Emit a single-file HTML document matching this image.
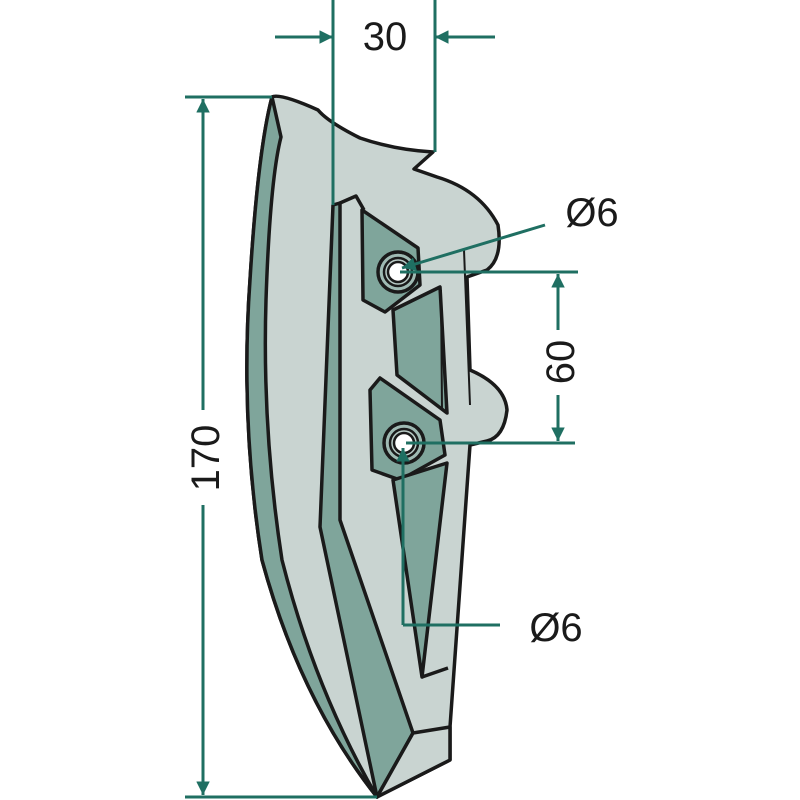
<!DOCTYPE html>
<html><head><meta charset="utf-8"><style>html,body{margin:0;padding:0;background:#fff}svg{display:block}</style></head><body>
<svg width="800" height="800" viewBox="0 0 800 800" xmlns="http://www.w3.org/2000/svg">
<defs><marker id="a" viewBox="0 0 10 10" refX="10" refY="5" markerWidth="8" markerHeight="4.5" orient="auto-start-reverse" markerUnits="strokeWidth"><path d="M0,0 L10,5 L0,10 z" fill="#1f6f62"/></marker></defs>
<g stroke="#1a1a1a" stroke-width="3.5" stroke-linejoin="round">
<path d="M272,97 Q280,93 318,110 Q328,122 360,138 Q395,150 433,152 L414,169 L437,177 Q480,190 498,225 Q503,258 487,270 L467,277 L470,370 Q505,385 507,410 Q504,437 487,441 L470,445 L450,727 L450,760 L377,797 Q300,700 262,560 Q240,420 250,280 Q258,150 272,97 Z" fill="#c9d4d1"/>
<path d="M272,97 Q258,150 250,280 Q240,420 262,560 Q300,700 377,797 Q315,690 282,560 Q262,430 266,300 Q270,180 281,137 Z" fill="#7fa59b"/>
<path d="M333,205 L340,203 L340,520 L413,733 L377,797 L320,527 Z" fill="#7fa59b"/>
<path d="M340,203 L356,196 L364,210" fill="none"/>
<path d="M413,733 L450,727 L450,760 L377,797 Z" fill="#c9d4d1"/>
<path d="M362,210 L418,248 L420,285 L385,312 L363,300 Z" fill="#7fa59b"/>
<path d="M393,310 L440,287 L447,413 L397,375 Z" fill="#7fa59b"/>
<path d="M370,390 L380,378 L440,420 L445,455 L400,480 L372,470 Z" fill="#7fa59b"/>
<path d="M393,480 L447,463 L422,677 Z" fill="#7fa59b"/>
<path d="M422,677 L448,668" fill="none"/>
<path d="M441,290 L442,410 M464,250 L470,405" fill="none" stroke-width="2"/>
<circle cx="398" cy="272" r="20" fill="#9fbab3"/>
<circle cx="398" cy="272" r="14" fill="#b9cbc6" stroke-width="2.5"/>
<circle cx="398" cy="272" r="10" fill="#fff" stroke-width="2.5"/>
<circle cx="404" cy="443" r="20" fill="#9fbab3"/>
<circle cx="404" cy="443" r="14" fill="#b9cbc6" stroke-width="2.5"/>
<circle cx="404" cy="443" r="10" fill="#fff" stroke-width="2.5"/>
</g>
<g stroke="#1f6f62" stroke-width="3" fill="none">
<path d="M333,0 L333,205 M435,0 L435,152"/>
<path d="M275,37 L333,37" marker-end="url(#a)"/>
<path d="M495,37 L435,37" marker-end="url(#a)"/>
<path d="M185,97 L272,97 M185,797 L377,797"/>
<path d="M203,410 L203,99" marker-end="url(#a)"/>
<path d="M203,505 L203,795" marker-end="url(#a)"/>
<path d="M400,272 L578,272 M406,443 L575,443"/>
<path d="M558,330 L558,274" marker-end="url(#a)"/>
<path d="M558,395 L558,441" marker-end="url(#a)"/>
<path d="M545,225 L402,268" marker-end="url(#a)"/>
<path d="M403,625 L500,625 M403,625 L403,448" marker-end="url(#a)"/>
</g>
<g font-family="Liberation Sans, sans-serif" font-size="40" fill="#1a1a1a">
<text x="385" y="50" text-anchor="middle">30</text>
<text x="592" y="226" text-anchor="middle">Ø6</text>
<text x="556" y="641" text-anchor="middle">Ø6</text>
<text transform="translate(219,458) rotate(-90)" text-anchor="middle">170</text>
<text transform="translate(574,362) rotate(-90)" text-anchor="middle">60</text>
</g>
</svg>
</body></html>
